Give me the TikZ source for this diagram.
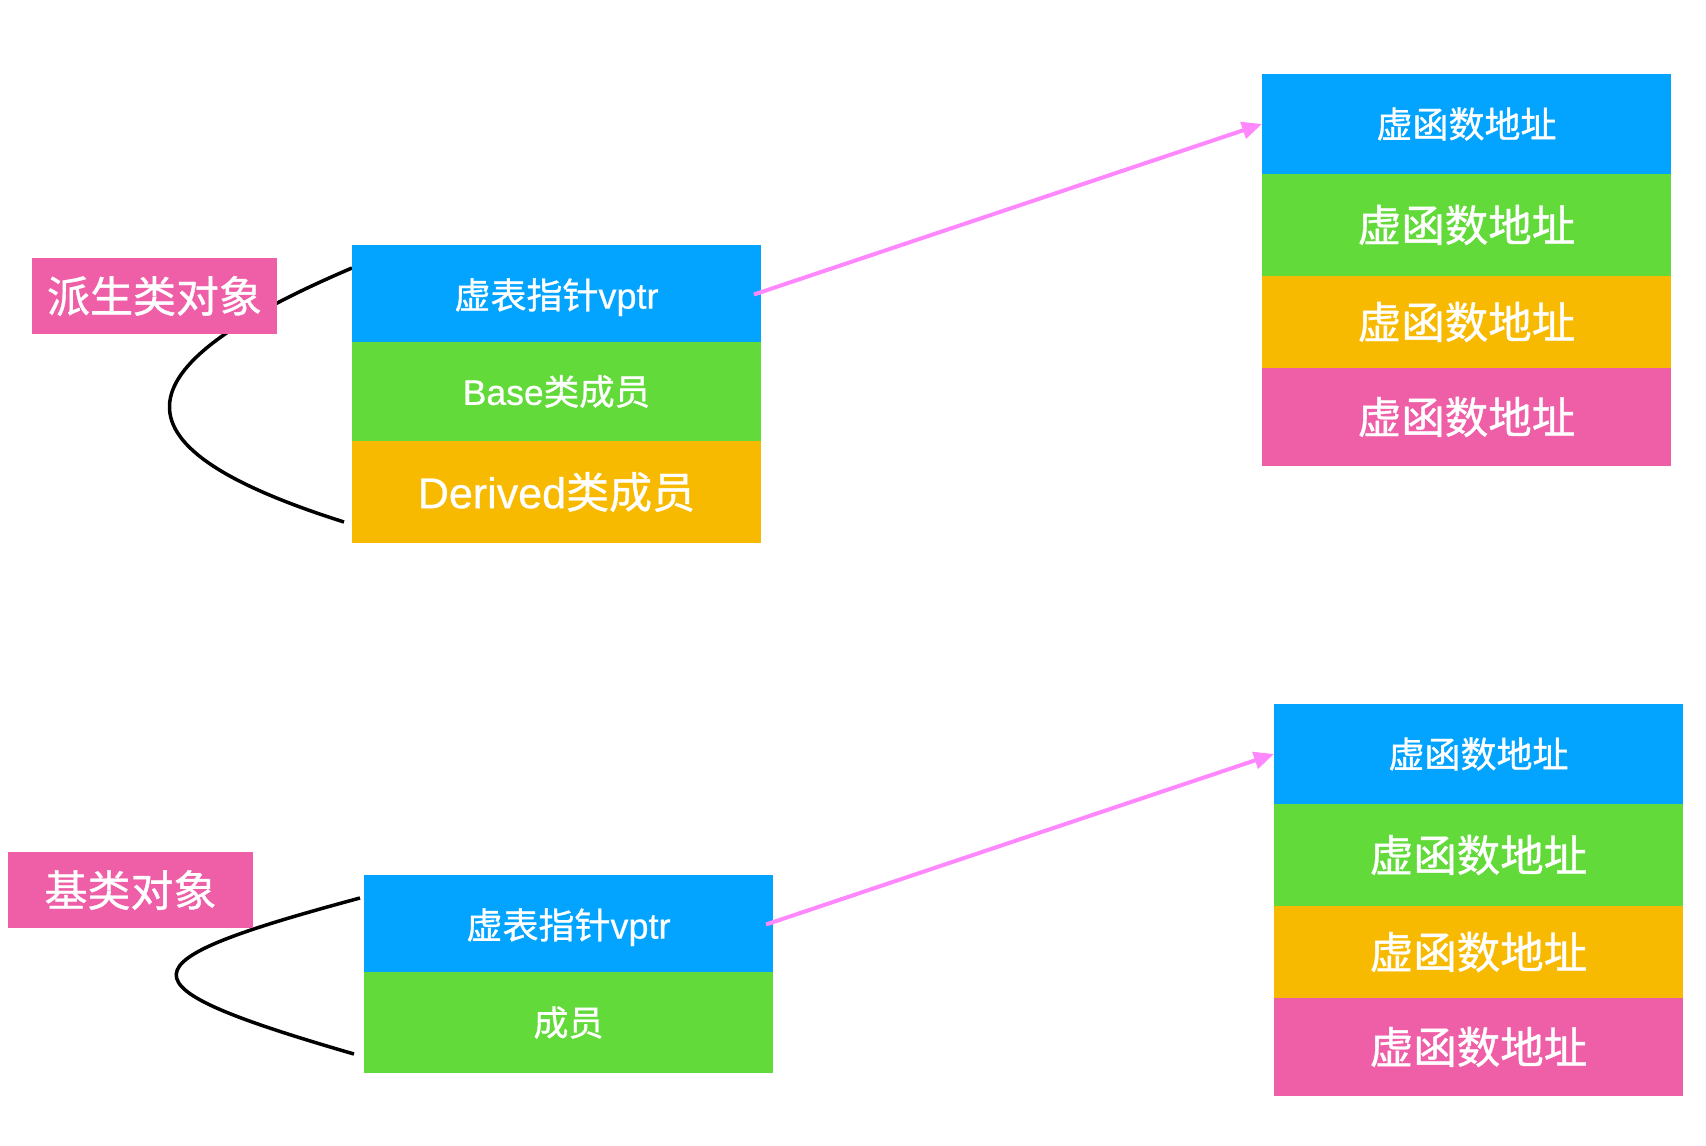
\documentclass[tikz,border=0pt]{standalone}
\usepackage{fontspec}
\setmainfont[FakeBold=0.6]{Liberation Sans}
\newfontfamily\cjk[FakeBold=0.9]{Noto Sans CJK SC}
\usetikzlibrary{arrows.meta}
\definecolor{cblue}{RGB}{3,164,255}
\definecolor{cgreen}{RGB}{98,218,57}
\definecolor{cyellow}{RGB}{248,186,0}
\definecolor{cpink}{RGB}{239,95,167}
\definecolor{carrow}{RGB}{255,136,255}
\tikzset{
  cell/.style={anchor=north west, inner sep=0pt, outer sep=0pt, minimum width=409pt, text=white, font=\cjk},
  tag/.style={anchor=north west, inner sep=0pt, outer sep=0pt, fill=cpink, text=white, font=\cjk\fontsize{43}{50}\selectfont},
  brace/.style={draw=black, line width=3.5pt},
  ptr/.style={draw=carrow, line width=4pt, -{Triangle[length=20pt,width=17pt]}},
  fsA/.style={font=\cjk\fontsize{36}{42}\selectfont},
  fsB/.style={font=\cjk\fontsize{43.5}{50}\selectfont}
}
\begin{document}
\begin{tikzpicture}[x=1pt,y=-1pt]
\useasboundingbox[fill=white] (0,0) rectangle (1706,1146);

% ---------- derived object ----------
\coordinate (bDs) at (352,268);
\coordinate (bDe) at (344,522);
\draw[brace] (bDs) .. controls (110,371) and (110,448) .. (bDe);

\node[tag, minimum width=245pt, minimum height=76pt] (lblD) at (32,258) {派生类对象};
\node[cell, fill=cblue, minimum height=97pt, text depth=0pt] (vptrD) at (352,245)
  {\fontsize{36}{42}\selectfont 虚表指针{\rmfamily vptr}};
\node[cell, fill=cgreen, minimum height=99pt] (baseD) at (352,342)
  {\fontsize{35.5}{42}\selectfont{\rmfamily Base}类成员};
\node[cell, fill=cyellow, minimum height=102pt] (derD) at (352,441)
  {\fontsize{43}{50}\selectfont{\rmfamily Derived}类成员};

\node[cell, fill=cblue, minimum height=100pt, fsA] (vfD1) at (1262,74) {虚函数地址};
\node[cell, fill=cgreen, minimum height=102pt, fsB] (vfD2) at (1262,174) {虚函数地址};
\node[cell, fill=cyellow, minimum height=92pt, fsB] (vfD3) at (1262,276) {虚函数地址};
\node[cell, fill=cpink, minimum height=98pt, fsB] (vfD4) at (1262,368) {虚函数地址};

\draw[ptr] ([xshift=-7pt,yshift=-1pt]vptrD.east) -- (vfD1.west);

% ---------- base object ----------
\coordinate (bBs) at (360,898);
\coordinate (bBe) at (354,1054);
\draw[brace] (bBs) .. controls (119,963) and (113,984) .. (bBe);

\node[tag, minimum width=245pt, minimum height=76pt] (lblB) at (8,852) {基类对象};
\node[cell, fill=cblue, minimum height=97pt, text depth=0pt] (vptrB) at (364,875)
  {\fontsize{36}{42}\selectfont 虚表指针{\rmfamily vptr}};
\node[cell, fill=cgreen, minimum height=101pt] (memB) at (364,972)
  {\fontsize{35}{42}\selectfont 成员};

\node[cell, fill=cblue, minimum height=100pt, fsA] (vfB1) at (1274,704) {虚函数地址};
\node[cell, fill=cgreen, minimum height=102pt, fsB] (vfB2) at (1274,804) {虚函数地址};
\node[cell, fill=cyellow, minimum height=92pt, fsB] (vfB3) at (1274,906) {虚函数地址};
\node[cell, fill=cpink, minimum height=98pt, fsB] (vfB4) at (1274,998) {虚函数地址};

\draw[ptr] ([xshift=-7pt,yshift=-1pt]vptrB.east) -- (vfB1.west);
\end{tikzpicture}
\end{document}
